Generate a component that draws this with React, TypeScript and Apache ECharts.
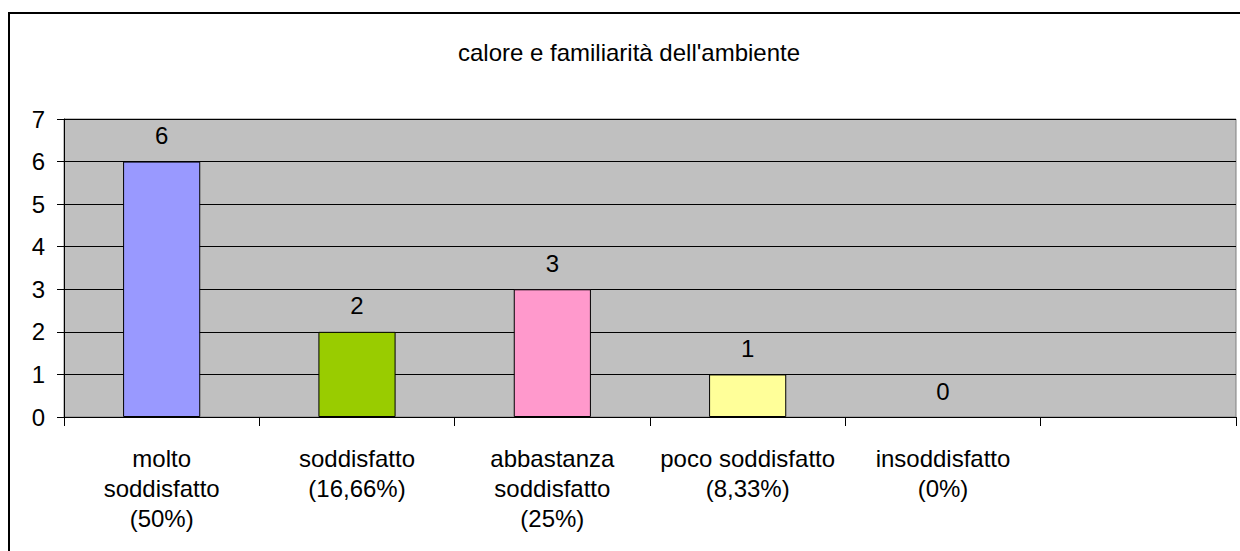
import React, { useEffect, useRef } from "react";
import * as echarts from "echarts";

const titleText = "calore e familiarità dell'ambiente";
const categories = [
  "molto\nsoddisfatto\n(50%)",
  "soddisfatto\n(16,66%)",
  "abbastanza\nsoddisfatto\n(25%)",
  "poco soddisfatto\n(8,33%)",
  "insoddisfatto\n(0%)",
  "",
];
const values: (number | null)[] = [6, 2, 3, 1, 0, null];
const barColors = ["#9999FF", "#99CC00", "#FF99CC", "#FFFF99", "#CCFFFF", "#FFFFFF"];
const yTicks = { min: 0, max: 7, interval: 1 };

const FONT = "'Liberation Sans', Arial, sans-serif";
const FS = 24;

export default function App() {
  const ref = useRef<HTMLDivElement>(null);
  useEffect(() => {
    if (!ref.current) return;
    const chart = echarts.init(ref.current, null, { renderer: "svg" });
    chart.setOption({
      animation: false,
      backgroundColor: "#FFFFFF",
      textStyle: { fontFamily: FONT },
      title: {
        text: titleText,
        left: 629,
        top: 40,
        textAlign: "center",
        padding: 0,
        textStyle: { fontFamily: FONT, fontSize: FS, fontWeight: "normal", color: "#000" },
      },
      graphic: [
        {
          type: "rect",
          shape: { x: 9, y: 13, width: 1260, height: 600 },
          style: { fill: "none", stroke: "#000", lineWidth: 2 },
          silent: true,
        },
      ],
      grid: {
        left: 64,
        top: 119,
        right: 4,
        bottom: 134,
        show: true,
        backgroundColor: "#C0C0C0",
        borderColor: "#808080",
        borderWidth: 1,
        containLabel: false,
      },
      xAxis: {
        type: "category",
        data: categories,
        boundaryGap: true,
        axisLine: { show: true, lineStyle: { color: "#000", width: 1 } },
        axisTick: { show: true, length: 9, interval: 0, lineStyle: { color: "#000" } },
        axisLabel: {
          interval: 0,
          margin: 26,
          color: "#000",
          fontFamily: FONT,
          fontSize: FS,
          lineHeight: 30,
          align: "center",
        },
        splitLine: { show: false },
      },
      yAxis: {
        type: "value",
        min: yTicks.min,
        max: yTicks.max,
        interval: yTicks.interval,
        axisLine: { show: true, lineStyle: { color: "#000", width: 1 } },
        axisTick: { show: true, length: 7, lineStyle: { color: "#000" } },
        axisLabel: { margin: 19, color: "#000", fontFamily: FONT, fontSize: FS },
        splitLine: { show: true, lineStyle: { color: "#000", width: 1 } },
      },
      series: [
        {
          type: "bar",
          barWidth: "39.5%",
          data: values.map((v, i) => ({
            value: v,
            itemStyle: {
              color: barColors[i],
              borderColor: "#000",
              borderWidth: v === 0 ? 0 : 1,
            },
          })),
          label: {
            show: true,
            position: "top",
            distance: 14,
            color: "#000",
            fontFamily: FONT,
            fontSize: FS,
          },
        },
      ],
    });
    return () => chart.dispose();
  }, []);
  return (
    <div
      ref={ref}
      style={{ position: "absolute", left: 0, top: 0, width: 1240, height: 551 }}
    />
  );
}
